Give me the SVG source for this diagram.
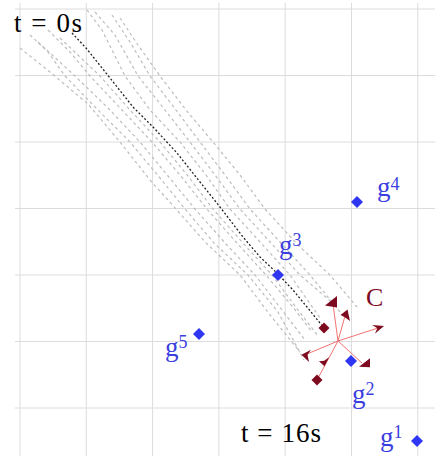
<svg xmlns="http://www.w3.org/2000/svg" width="435" height="456" viewBox="0 0 435 456">
<style>
.grid line{stroke:#dcdcdc;stroke-width:1}
.traj path{fill:none;stroke:#bdbdbd;stroke-width:1.2;stroke-dasharray:3 3}
.traj path.main{stroke:#222;stroke-width:1.3;stroke-dasharray:2 2}
.goal{fill:#2f36f2}
.glab{font-family:"Liberation Serif","Times New Roman",serif;font-size:27px;fill:#3b3fe0}
.glab tspan{font-size:18px}
.tlab{font-family:"Liberation Serif","Times New Roman",serif;font-size:27px;fill:#000}
.conn line{stroke:#f07272;stroke-width:1}
.head{fill:#7d0a1f}
</style>
<defs>
<polygon id="dia" points="0,-6 6,0 0,6 -6,0"/>
<polygon id="rdia" points="0,-5.5 5.5,0 0,5.5 -5.5,0"/>
</defs>
<rect width="435" height="456" fill="#fff"/>
<g class="grid">
<line x1="20" y1="3" x2="20" y2="456"/>
<line x1="86.3" y1="3" x2="86.3" y2="456"/>
<line x1="152.6" y1="3" x2="152.6" y2="456"/>
<line x1="218.9" y1="3" x2="218.9" y2="456"/>
<line x1="285.2" y1="3" x2="285.2" y2="456"/>
<line x1="351.5" y1="3" x2="351.5" y2="456"/>
<line x1="417.8" y1="3" x2="417.8" y2="456"/>
<line x1="15" y1="9" x2="435" y2="9"/>
<line x1="15" y1="75.5" x2="435" y2="75.5"/>
<line x1="15" y1="142" x2="435" y2="142"/>
<line x1="15" y1="208.5" x2="435" y2="208.5"/>
<line x1="15" y1="275" x2="435" y2="275"/>
<line x1="15" y1="341.5" x2="435" y2="341.5"/>
<line x1="15" y1="408" x2="435" y2="408"/>
</g>
<g class="traj">
<path d="M20,48 L50,72 L88,104 L120,142 L150,180 L176,209 L205,242 L240,275 L270,315 L300,352"/>
<path d="M30,35 L48,52 L65,76 L98,110 L130,142 L160,178 L185,209 L215,244 L248,275 L278,312 L304,360"/>
<path d="M38,42 L75,76 L108,108 L140,142 L168,176 L195,209 L226,244 L255,275 L282,310 L305,340"/>
<path d="M48,30 L70,52 L90,76 L122,110 L152,142 L180,175 L207,209 L236,242 L266,275 L292,306 L312,332"/>
<path d="M60,38 L100,76 L130,110 L160,142 L188,176 L213,209 L242,242 L272,275 L298,310 L318,336"/>
<path d="M87,10 L102,30 L125,76 L150,110 L180,142 L206,175 L230,209 L260,242 L290,275 L320,318"/>
<path d="M95,12 L115,35 L138,76 L165,110 L190,142 L215,175 L240,209 L270,242 L300,275 L335,305"/>
<path d="M112,15 L130,42 L150,76 L176,110 L200,142 L225,175 L250,209 L280,242 L310,275 L345,318"/>
<path d="M120,18 L138,45 L160,76 L186,110 L213,142 L240,175 L265,209 L298,245 L330,275 L357,307"/>
<path class="main" d="M72,33 L86,48 L110,78 L133,107 L153,127 L177,153 L200,182 L220,207 L243,237 L260,257 L278,274 L293,290 L307,307 L324,328"/>
</g>
<g class="conn">
<line x1="338" y1="341" x2="333" y2="304"/>
<line x1="338" y1="341" x2="345" y2="316"/>
<line x1="338" y1="341" x2="378" y2="328"/>
<line x1="338" y1="341" x2="307" y2="354"/>
<line x1="338" y1="341" x2="317" y2="380"/>
<line x1="338" y1="341" x2="362" y2="363"/>
</g>
<g id="C">
<polygon class="head" points="325,305.5 337,296 337,307.5"/>
<polygon class="head" points="347.5,309.5 340.5,315 344.5,317 350,321"/>
<polygon class="head" points="384,326 374.9,333.7 377.4,328.2 372.1,325.1"/>
<polygon class="head" points="301.5,354.7 311,349.7 307.5,354.7 309,362"/>
<polygon class="head" points="324.5,366.3 319,361.3 324.3,360.7 329,357.3"/>
<polygon class="head" points="359,366.7 370,358.3 370,367.3"/>
<use href="#rdia" class="head" x="324" y="328"/>
<use href="#rdia" class="head" x="317" y="380"/>
<text x="366" y="306" font-family="Liberation Serif, Times New Roman, serif" font-size="26" fill="#7d0a1f">C</text>
</g>
<g id="g1"><use href="#dia" class="goal" x="417" y="441"/><text class="glab" x="380" y="446">g<tspan dy="-8">1</tspan></text></g>
<g id="g2"><use href="#dia" class="goal" x="351" y="361"/><text class="glab" x="352" y="403">g<tspan dy="-8">2</tspan></text></g>
<g id="g3"><use href="#dia" class="goal" x="278" y="275"/><text class="glab" x="279" y="254">g<tspan dy="-8">3</tspan></text></g>
<g id="g4"><use href="#dia" class="goal" x="357" y="202"/><text class="glab" x="377" y="196">g<tspan dy="-6">4</tspan></text></g>
<g id="g5"><use href="#dia" class="goal" x="199" y="334"/><text class="glab" x="165" y="356">g<tspan dy="-8">5</tspan></text></g>
<g id="t0"><text class="tlab" x="14" y="32" textLength="68" lengthAdjust="spacing">t = 0s</text></g>
<g id="t16"><text class="tlab" x="241" y="442" textLength="80" lengthAdjust="spacing">t = 16s</text></g>
</svg>
